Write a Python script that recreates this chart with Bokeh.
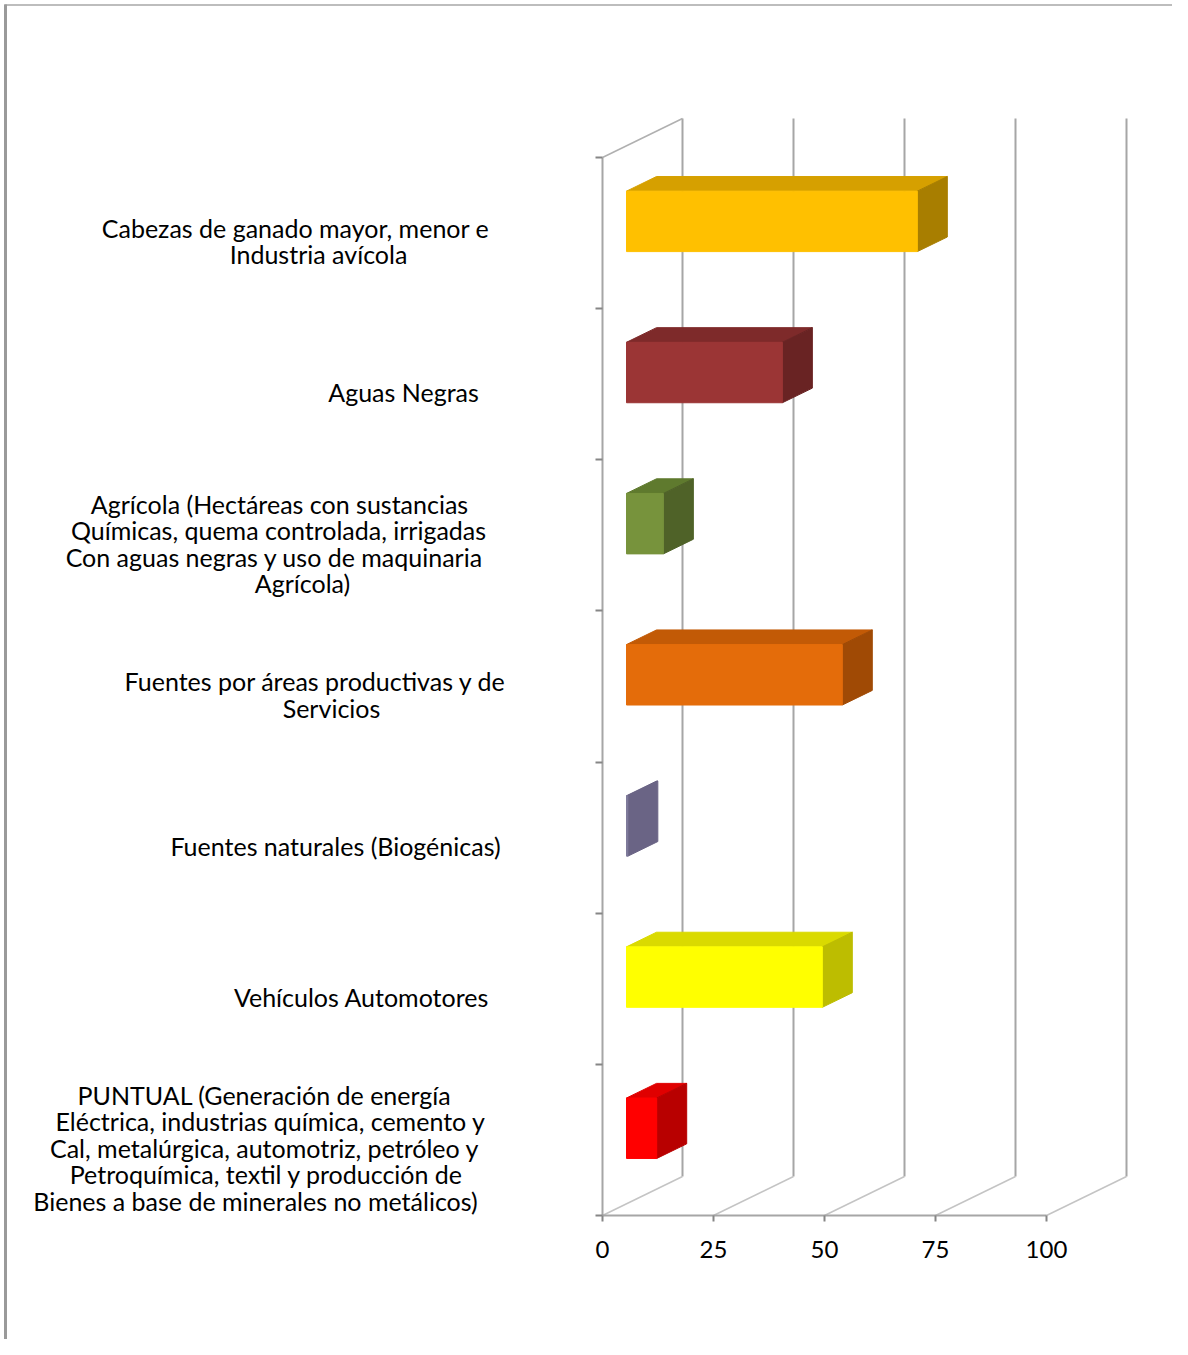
from bokeh.plotting import figure
from bokeh.models import Range1d, LinearAxis, FixedTicker
from bokeh.embed import file_html
from bokeh.resources import INLINE
from bokeh.core.properties import value

# ---------------- data ----------------
categories = [
    "Cabezas de ganado mayor, menor e\nIndustria avícola",
    "Aguas Negras",
    "Agrícola (Hectáreas con sustancias\nQuímicas, quema controlada, irrigadas\nCon aguas negras y uso de maquinaria\nAgrícola)",
    "Fuentes por áreas productivas y de\nServicios",
    "Fuentes naturales (Biogénicas)",
    "Vehículos Automotores",
    "PUNTUAL (Generación de energía\nEléctrica, industrias química, cemento y\nCal, metalúrgica, automotriz, petróleo y\nPetroquímica, textil y producción de\nBienes a base de minerales no metálicos)",
]
values = [65.5, 35.1, 8.3, 48.6, 0.3, 44.1, 6.8]
x_ticks = [0, 25, 50, 75, 100]

front_colors = ["#FFC000", "#9B3535", "#77933C", "#E46C0A", "#7E7A9A", "#FFFF00", "#FF0000"]
top_colors = ["#D6A000", "#7E2A2A", "#5F7A2E", "#C25A06", "#6A6485", "#DADA00", "#E00000"]
side_colors = ["#A87E00", "#692323", "#4F6228", "#A04A05", "#6A6485", "#BDBD00", "#B80000"]

# ---------------- layout (page pixels) ----------------
label_line_centers = [[295, 318], [403], [279, 278, 274, 302], [315, 331], [335], [361],
                      [264, 270, 264, 266, 255]]

W, H = 1172, 1339
PX0, PX1 = 0, W              # page x of frame
PY0, PY1 = 0, H              # page y of frame
ZERO_PX, HUNDRED_PX = 602, 1046
AXIS_PY, TOP_PY = 1215, 157
n = len(categories)

kx = 100.0 / (HUNDRED_PX - ZERO_PX)          # data units per px (x)
ky = n / float(AXIS_PY - TOP_PY)             # category units per px (y)

x_range = Range1d((PX0 - ZERO_PX) * kx, (PX1 - ZERO_PX) * kx)
y_range = Range1d(-(PY1 - AXIS_PY) * ky, (AXIS_PY - PY0) * ky)

DX = 80 * kx   # depth offset
DY = 39 * ky

p = figure(width=W, height=H, x_range=x_range, y_range=y_range,
           output_backend="svg", toolbar_location=None,
           x_axis_location=None, y_axis_location=None,
           min_border=0, outline_line_color=None)
p.grid.visible = False
p.extra_x_ranges = {"px": Range1d(PX0, PX1)}
p.extra_y_ranges = {"py": Range1d(PY1, PY0)}

# page border (top & left)
p.segment(x0=[4, 5], y0=[4.5, 4], x1=[PX1, 5], y1=[4.5, PY1],
          x_range_name="px", y_range_name="py",
          line_color=["#BDBDBD", "#9A9A9A"], line_width=[2, 3])

# back wall vertical gridlines
p.segment(x0=[t + DX for t in x_ticks], y0=[DY] * len(x_ticks),
          x1=[t + DX for t in x_ticks], y1=[n + DY] * len(x_ticks),
          line_color="#A6A6A6", line_width=2)
# floor diagonals
p.segment(x0=x_ticks, y0=[0] * len(x_ticks),
          x1=[t + DX for t in x_ticks], y1=[DY] * len(x_ticks),
          line_color="#C4C4C4", line_width=1.5)
# left wall top edge
p.segment(x0=[0], y0=[n], x1=[DX], y1=[n + DY], line_color="#B0B0B0", line_width=1.5)

# bars
f0, f1, h = 0.3, 0.675, 0.4
fx, fy = f0 * DX, f0 * DY
dd, ddy = (f1 - f0) * DX, (f1 - f0) * DY
front_xs, front_ys, top_xs, top_ys, side_xs, side_ys = [], [], [], [], [], []
for k, v in enumerate(values):
    c = n - k - 0.5
    x0, x1 = fx, v + fx
    y0, y1 = c - h / 2 + fy, c + h / 2 + fy
    front_xs.append([x0, x1, x1, x0]); front_ys.append([y0, y0, y1, y1])
    top_xs.append([x0, x1, x1 + dd, x0 + dd]); top_ys.append([y1, y1, y1 + ddy, y1 + ddy])
    side_xs.append([x1, x1, x1 + dd, x1 + dd]); side_ys.append([y0, y1, y1 + ddy, y0 + ddy])

p.patches(top_xs, top_ys, fill_color=top_colors, line_color=top_colors, line_width=1)
p.patches(side_xs, side_ys, fill_color=side_colors, line_color=side_colors, line_width=1)
p.patches(front_xs, front_ys, fill_color=front_colors, line_color=front_colors, line_width=1)

# x axis (front floor edge)
xaxis = LinearAxis(fixed_location=0, ticker=FixedTicker(ticks=x_ticks), bounds=(0, 100))
xaxis.axis_line_color = "#A6A6A6"
xaxis.axis_line_width = 2
xaxis.major_tick_line_color = "#868686"
xaxis.major_tick_line_width = 2
xaxis.major_tick_out = 6
xaxis.major_tick_in = 0
xaxis.minor_tick_line_color = None
xaxis.major_label_standoff = 19
xaxis.major_label_text_font = "Lato"
xaxis.major_label_text_font_size = "24px"
xaxis.major_label_text_color = "#000000"
p.add_layout(xaxis, "below")

# category axis (left wall edge)
yaxis = LinearAxis(fixed_location=0, ticker=FixedTicker(ticks=list(range(n + 1))), bounds=(0, n))
yaxis.axis_line_color = "#A6A6A6"
yaxis.axis_line_width = 2
yaxis.major_tick_line_color = "#868686"
yaxis.major_tick_line_width = 2
yaxis.major_tick_out = 7
yaxis.major_tick_in = 0
yaxis.minor_tick_line_color = None
yaxis.major_label_text_color = None
p.add_layout(yaxis, "left")

# category labels
LINE_H = 26.5
tx, ty, tt, toff = [], [], [], []
for k, lab in enumerate(categories):
    lines = lab.split("\n")
    m = len(lines)
    for j, line in enumerate(lines):
        tx.append(label_line_centers[k][j])
        ty.append(n - k - 0.5)
        tt.append(line)
        toff.append(8 + (j - (m - 1) / 2.0) * LINE_H)
p.text(x=tx, y=ty, text=tt, y_offset=toff, x_range_name="px",
       text_align="center", text_baseline="middle",
       text_font=value("Lato"), text_font_size="25px", text_color="#000000")

open("out.html", "w").write(file_html(p, INLINE))
